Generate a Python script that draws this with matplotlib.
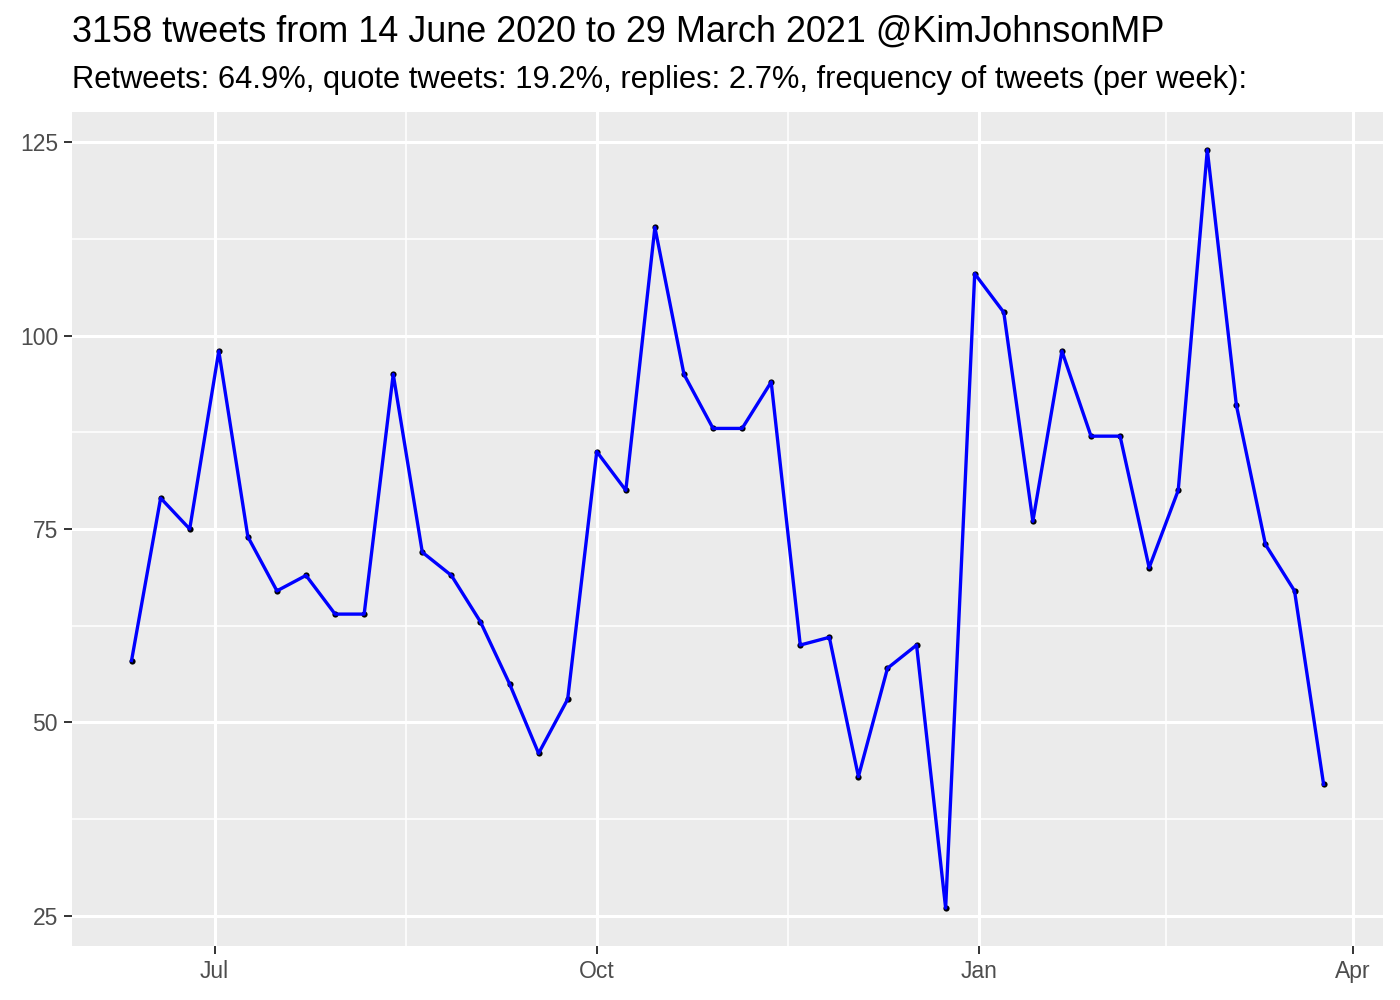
import numpy as np
import pandas as pd
import matplotlib
matplotlib.use("Agg")
import matplotlib.pyplot as plt
import matplotlib.dates as mdates

plt.rcParams['font.family'] = ['Liberation Sans', 'DejaVu Sans']

# weekly tweet counts
week_start = "2020-06-11"
tweets = [58, 79, 75, 98, 74, 67, 69, 64, 64, 95, 72, 69, 63, 55, 46, 53,
          85, 80, 114, 95, 88, 88, 94, 60, 61, 43, 57, 60, 26, 108, 103, 76,
          98, 87, 87, 70, 80, 124, 91, 73, 67, 42]
weeks = pd.date_range(week_start, periods=len(tweets), freq="7D")

x_breaks = ["2020-07-01", "2020-10-01", "2021-01-01", "2021-04-01"]
x_minor = ["2020-08-16", "2020-11-16", "2021-02-15"]
x_labels = ["Jul", "Oct", "Jan", "Apr"]
y_breaks = [25, 50, 75, 100, 125]
y_minor = [37.5, 62.5, 87.5, 112.5]

title = "3158 tweets from 14 June 2020 to 29 March 2021 @KimJohnsonMP"
subtitle = "Retweets: 64.9%, quote tweets: 19.2%, replies: 2.7%, frequency of tweets (per week):"

fig = plt.figure(figsize=(14, 10), dpi=100)
ax = fig.add_axes([0.0514, 0.054, 0.9366, 0.834])
ax.set_facecolor("#EBEBEB")

xd = mdates.date2num(weeks)
ax.scatter(xd, tweets, s=20, color="black", zorder=2, linewidths=0)
ax.plot(xd, tweets, color="#0000FF", lw=2.4, zorder=3)

# ggplot-like expansion of 5%
xr = xd.max() - xd.min()
ax.set_xlim(xd.min() - 0.05 * xr, xd.max() + 0.05 * xr)
yr = max(tweets) - min(tweets)
ax.set_ylim(min(tweets) - 0.05 * yr, max(tweets) + 0.05 * yr)

ax.set_xticks(mdates.date2num(pd.to_datetime(x_breaks)))
ax.set_xticklabels(x_labels)
ax.set_xticks(mdates.date2num(pd.to_datetime(x_minor)), minor=True)
ax.set_yticks(y_breaks)
ax.set_yticks(y_minor, minor=True)

ax.grid(which="major", color="white", lw=2.2)
ax.grid(which="minor", color="white", lw=1.1)
ax.set_axisbelow(True)
for s in ax.spines.values():
    s.set_visible(False)
ax.tick_params(which="major", length=6, width=1.4, color="#333333",
               labelcolor="#4D4D4D", labelsize=16.5, pad=4)
ax.tick_params(which="minor", length=0)

fig.text(0.0514, 0.958, title, fontsize=25.9, ha="left", va="baseline")
fig.text(0.0514, 0.912, subtitle, fontsize=22.2, ha="left", va="baseline")

fig.savefig("out.png", dpi=100)
